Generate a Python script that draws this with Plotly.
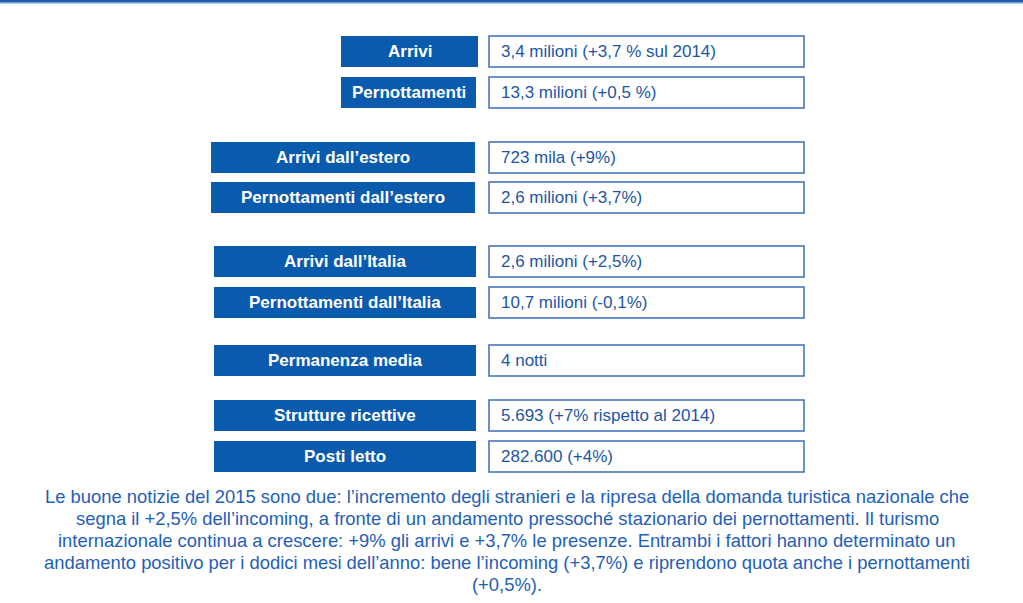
import plotly.graph_objects as go

# box labels and values
labels = ["Arrivi", "Pernottamenti", "Arrivi dall’estero", "Pernottamenti dall’estero",
          "Arrivi dall’Italia", "Pernottamenti dall’Italia", "Permanenza media",
          "Strutture ricettive", "Posti letto"]
values = ["3,4 milioni (+3,7 % sul 2014)", "13,3 milioni (+0,5 %)", "723 mila (+9%)",
          "2,6 milioni (+3,7%)", "2,6 milioni (+2,5%)", "10,7 milioni (-0,1%)", "4 notti",
          "5.693 (+7% rispetto al 2014)", "282.600 (+4%)"]
note_lines = [
    "Le buone notizie del 2015 sono due: l’incremento degli stranieri e la ripresa della domanda turistica nazionale che",
    "segna il +2,5% dell’incoming, a fronte di un andamento pressoché stazionario dei pernottamenti. Il turismo",
    "internazionale continua a crescere: +9% gli arrivi e +3,7% le presenze. Entrambi i fattori hanno determinato un",
    "andamento positivo per i dodici mesi dell’anno: bene l’incoming (+3,7%) e riprendono quota anche i pernottamenti",
    "(+0,5%).",
]

# layout (pixel-like coordinates)
row_top = [36, 77, 142, 182, 246, 287, 345, 400, 441]
lab_x0 = [341, 341, 211, 211, 214, 214, 214, 214, 214]
lab_x1 = [478, 476, 475, 475, 476, 476, 476, 476, 476]
row_h = 31
val_x0, val_x1 = 489, 804

W, H = 1023, 603
DARK = "#0A5AAE"
TXT = "#1D56A6"
FONT = "Liberation Sans, Arial"

fig = go.Figure()
shapes = []
ann = []
for i, lab in enumerate(labels):
    y0 = row_top[i]
    y1 = y0 + row_h
    shapes.append(dict(type="rect", x0=lab_x0[i], x1=lab_x1[i], y0=y0, y1=y1,
                       fillcolor=DARK, line=dict(width=0), layer="below"))
    shapes.append(dict(type="rect", x0=val_x0, x1=val_x1, y0=y0, y1=y1,
                       fillcolor="white", line=dict(color="#3C6DB5", width=1.5)))
    ann.append(dict(x=(lab_x0[i] + lab_x1[i]) / 2, y=(y0 + y1) / 2, text="<b>%s</b>" % lab,
                    showarrow=False, font=dict(color="white", size=17, family=FONT)))
    ann.append(dict(x=val_x0 + 10, y=(y0 + y1) / 2, text=values[i], xanchor="left",
                    showarrow=False, font=dict(color=TXT, size=17, family=FONT)))

# paragraph below the boxes, one line per annotation
for j, line in enumerate(note_lines):
    ann.append(dict(x=507, y=496 + j * 22, text=line, showarrow=False,
                    font=dict(color="#1F60B8", size=18.4, family=FONT)))

# top rule
shapes.append(dict(type="rect", x0=0, x1=W, y0=0, y1=2, fillcolor="#1E5AA8", line=dict(width=0)))
shapes.append(dict(type="rect", x0=0, x1=W, y0=2, y1=3.5, fillcolor="#6F9AD6", line=dict(width=0)))

fig.update_layout(
    width=W, height=H,
    margin=dict(l=0, r=0, t=0, b=0),
    paper_bgcolor="white", plot_bgcolor="white",
    xaxis=dict(range=[0, W], visible=False, fixedrange=True),
    yaxis=dict(range=[H, 0], visible=False, fixedrange=True),
    shapes=shapes, annotations=ann, showlegend=False,
)
fig.write_html("out.html", config={"displayModeBar": False},
               post_script="document.body.style.margin='0';")
